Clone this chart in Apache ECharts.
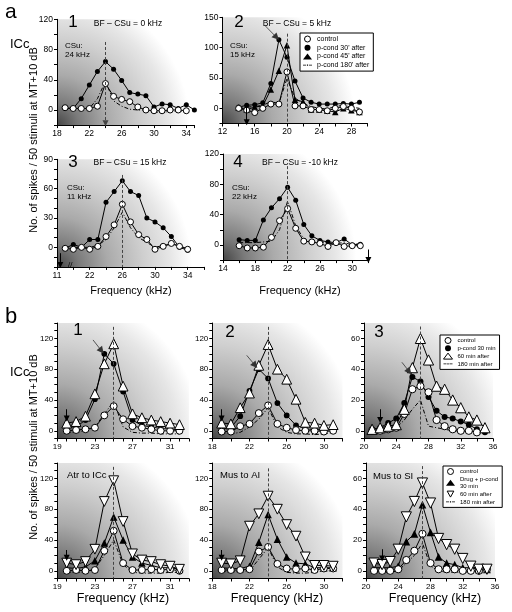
<!DOCTYPE html>
<html><head><meta charset="utf-8">
<script src="https://cdn.jsdelivr.net/npm/echarts@6/dist/echarts.min.js"></script>
<style>html,body{margin:0;padding:0;background:#fff}#c{width:512px;height:612px}</style>
</head><body><div id="c"></div>
<script>
// ================= DATA =================
// Panel a1 (CSu 24 kHz)
const a1Freq     = [19,20,21,22,23,24,25,26,27,28,29,30,31,32,33,34,35];
const a1Control  = [3,2,2,2,5,35,18,14,11,4,0,-1,-1,0,0,-1,null];
const a1Pcond30  = [2,2,15,33,51,64,54,39,23,21,19,4,8,7,2,7,0];
const a1Pcond180 = [2,2,2,2,15,38,12,5,1,0,0,-3,-3,-2,-2,-1,null];
const a1XTicks = [18,22,26,30,34];
const a1YTicks = [0,40,80,120];
// Panel a2 (CSu 15 kHz)
const a2Freq     = [14,15,16,17,18,19,20,21,22,23,24,25,26,27,28,29];
const a2Control  = [0,-3,-7,0,7,7,60,4,4,-2,-2,-4,0,3,0,-6];
const a2Pcond30  = [2,5,6,9,41,113,84,45,17,10,7,7,7,8,7,10];
const a2Pcond45  = [1,-2,2,4,31,62,104,14,11,-2,-2,-4,-6,0,-3,-6];
const a2Pcond180 = [0,2,3,5,11,8,49,17,8,3,0,-1,3,5,2,0];
const a2XTicks = [12,16,20,24,28];
const a2YTicks = [0,50,100,150];
// Panel a3 (CSu 11 kHz, broken axis)
const a3Freq     = [19,20,21,22,23,24,25,26,27,28,29,30,31,32,33,34];
const a3Control  = [-1,-2,0,-2,1,11,23,44,26,13,8,-2,1,4,1,-2];
const a3Pcond30  = [-1,3,0,8,8,46,57,68,57,53,30,26,20,11,0,-3];
const a3Pcond180 = [-1,0,0,0,2,8,20,36,20,10,5,0,2,3,2,-2];
const a3XTicks = [18,22,26,30,34];
const a3XTickText = ['11','22','26','30','34'];
const a3YTicks = [0,30,60,90];
// Panel a4 (CSu 22 kHz)
const a4Freq     = [16,17,18,19,20,21,22,23,24,25,26,27,28,29,30,31];
const a4Control  = [-1,-4,-4,-3,10,32,48,22,5,4,2,-2,3,-2,-1,-1];
const a4Pcond30  = [7,6,6,33,49,61,76,59,27,12,6,4,3,8,0,1];
const a4Pcond180 = [3,3,3,4,5,20,58,25,8,3,5,2,2,3,0,2];
const a4XTicks = [14,18,22,26,30];
const a4YTicks = [0,40,80,120];
// Panel b1
const b1Freq     = [20,21,22,23,24,25,26,27,28,29,30,31,32];
const b1Control  = [0,1,2,4,20,32,15,6,4,2,0,0,0];
const b1Pcond30  = [5,5,14,41,100,87,51,14,7,5,3,2,1];
const b1After60  = [10,12,19,48,87,113,58,22,17,14,12,10,8];
const b1After180 = [-2,-2,0,5,22,38,5,-2,-3,-3,-4,-4,-4];
// Panel b2
const b2Freq     = [19,20,21,22,23,24,25,26,27,28,29,30,31];
const b2Control  = [-1,-1,6,9,23,33,9,4,1,0,0,-1,0];
const b2Pcond30  = [3,4,19,52,80,68,36,20,7,3,1,3,1];
const b2After60  = [10,9,30,49,85,112,80,67,41,11,10,7,8];
const b2After180 = [-2,-4,-2,5,15,30,5,-2,-4,-4,-5,-4,-2];
// Panel b3
const b3Freq     = [21,22,23,24,25,26,27,28,29,30,31,32,33,34,35];
const b3Control  = [0,0,1,2,11,27,29,25,7,3,1,0,0,-1,null];
const b3Pcond30  = [1,2,5,8,18,35,32,22,13,9,8,6,4,1,-1];
const b3After60  = [1,2,3,4,14,41,60,46,29,27,20,15,9,7,2];
const b3After180 = [0,-1,0,2,7,14,20,3,2,1,0,0,-1,-1,-2];
// Panel b4 (Atr to ICc)
const b4Freq     = [20,21,22,23,24,25,26,27,28,29,30,31,32];
const b4Control  = [0,1,0,1,26,52,10,1,1,2,1,2,0];
const b4Drug     = [4,3,5,13,36,70,40,18,10,7,4,4,2];
const b4After60  = [10,8,12,28,90,117,64,22,14,12,8,6,2];
const b4After180 = [-2,-2,-2,3,20,40,8,-2,-3,-3,-3,-2,-2];
// Panel b5 (Mus to AI)
const b5Freq     = [19,20,21,22,23,24,25,26,27,28,29,30,31];
const b5Control  = [1,1,1,2,25,31,9,3,2,3,1,3,3];
const b5Drug     = [4,3,3,6,37,73,41,18,10,9,4,4,4];
const b5After60  = [10,9,13,58,74,97,80,60,45,18,7,7,6];
const b5After180 = [-1,-1,-1,0,15,30,5,-2,-3,-3,-2,0,0];
// Panel b6 (Mus to SI)
const b6Freq     = [21,22,23,24,25,26,27,28,29,30,31,32,33,34,35];
const b6Control  = [0,0,0,1,7,13,24,5,1,1,1,0,0,0,1];
const b6Drug     = [2,2,2,3,19,24,43,25,9,5,4,2,2,1,1];
const b6After60  = [5,4,6,14,35,45,57,44,21,17,14,8,3,1,1];
const b6After180 = [-1,-1,-1,0,5,10,18,3,0,-1,-1,-1,-1,-1,-1];
const bX1Ticks = [19,23,27,31];
const bX2Ticks = [18,22,26,30];
const bX3Ticks = [20,24,28,32,36];
const bYTicks  = [0,40,80,120];
const bY3Ticks = [0,20,40,60];
// Best-frequency (dashed) lines and CSu frequencies
const aBF = [24,20,26,22];
const bBF = [25,24,27,25,24,27];
const aCSu = [24,15,18.4,32];
const bCSu = [20,19,22,20,19,22];

// ================= RENDERING =================
const FONT = "'Liberation Sans', Arial, Helvetica, sans-serif";
const chart = echarts.init(document.getElementById('c'), null, {renderer:'canvas', width:512, height:612});
function bg(){
  return new echarts.graphic.RadialGradient(0,1,1.35,[
    {offset:0,color:'#454545'},{offset:0.15,color:'#7a7a7a'},{offset:0.35,color:'#aaaaaa'},
    {offset:0.6,color:'#cfcfcf'},{offset:0.78,color:'#e6e6e6'},{offset:0.93,color:'#ffffff'},{offset:1,color:'#ffffff'}]);
}
const KIND = {
  fc:(s)=>({symbol:'circle', symbolSize:5*s, itemStyle:{color:'#000'}}),
  oc:(s)=>({symbol:'circle', symbolSize:6*s, itemStyle:{color:'#fff', borderColor:'#000', borderWidth:1}}),
  ft:(s)=>({symbol:'triangle', symbolSize:6.5*s, itemStyle:{color:'#000'}}),
  ot:(s)=>({symbol:'triangle', symbolSize:8.5*s, itemStyle:{color:'#fff', borderColor:'#000', borderWidth:1}}),
  it:(s)=>({symbol:'triangle', symbolRotate:180, symbolSize:8.5*s, itemStyle:{color:'#fff', borderColor:'#000', borderWidth:1}}),
  dd:(s)=>({symbol:'none', lineStyle:{color:'#000', width:1, type:[4,2,1,2]}})
};
const N30a="p-cond 30' after", N45a="p-cond 45' after", N180a="p-cond 180' after";
const N30b='p-cond 30 min', NDrug='Drug + p-cond\n30 min', N60='60 min after', N180b='180 min after';

const P = [
 {box:[57,19.3,137.4,105.8], x:[18,35,2,a1XTicks,a1XTicks.map(String)], y:[-20,120,20,a1YTicks], fs:8.5, s:1,
  bf:[aBF[0],90,-17.5,true], csu:null, diag:null,
  ser:[[N180a,a1Freq,a1Pcond180,'dd'],[N30a,a1Freq,a1Pcond30,'fc'],['control',a1Freq,a1Control,'oc']]},
 {box:[222.5,17.3,145,106.2], x:[12,30,2,a2XTicks,a2XTicks.map(String)], y:[-25,150,25,a2YTicks], fs:8.5, s:1,
  bf:[aBF[1],123,-25,false], csu:[aCSu[1],4,-23], diag:[17.3,136,18.7,117],
  ser:[[N180a,a2Freq,a2Pcond180,'dd'],[N30a,a2Freq,a2Pcond30,'fc'],[N45a,a2Freq,a2Pcond45,'ft'],['control',a2Freq,a2Control,'oc']]},
 {box:[57,159.3,147,107.6], x:[18,36,2,a3XTicks,a3XTickText], y:[-20,90,10,a3YTicks], fs:8.5, s:1,
  bf:[aBF[2],74,-20,false], csu:[aCSu[2],-6,-18], diag:null,
  ser:[[N180a,a3Freq,a3Pcond180,'dd'],[N30a,a3Freq,a3Pcond30,'fc'],['control',a3Freq,a3Control,'oc']]},
 {box:[223,154,145.4,106.1], x:[14,32,2,a4XTicks,a4XTicks.map(String)], y:[-20,120,20,a4YTicks], fs:8.5, s:1,
  bf:[aBF[3],104,-20,false], csu:[aCSu[3],-6,-20], diag:null,
  ser:[[N180a,a4Freq,a4Pcond180,'dd'],[N30a,a4Freq,a4Pcond30,'fc'],['control',a4Freq,a4Control,'oc']]},
 {box:[57.3,323,131.6,115.5], x:[19,33,1,bX1Ticks,bX1Ticks.map(String)], y:[-10,140,10,bYTicks], fs:8, s:1.15,
  bf:[bBF[0],135,-10,false], csu:[bCSu[0],28,16], diag:[22.8,118,23.7,104],
  ser:[[N180b,b1Freq,b1After180,'dd'],[N30b,b1Freq,b1Pcond30,'fc'],['control',b1Freq,b1Control,'oc'],[N60,b1Freq,b1After60,'ot']]},
 {box:[212.3,323,130.2,115.5], x:[18,32,2,bX2Ticks,bX2Ticks.map(String)], y:[-10,140,10,bYTicks], fs:8, s:1.15,
  bf:[bBF[1],135,-10,false], csu:[bCSu[1],28,16], diag:[21.7,98,22.6,85],
  ser:[[N180b,b2Freq,b2After180,'dd'],[N30b,b2Freq,b2Pcond30,'fc'],['control',b2Freq,b2Control,'oc'],[N60,b2Freq,b2After60,'ot']]},
 {box:[364,323,129,115.5], x:[20,36,2,bX3Ticks,bX3Ticks.map(String)], y:[-5,70,5,bY3Ticks], fs:8, s:1.2,
  bf:[bBF[2],67.7,-5,false], csu:[bCSu[2],14,7], diag:[24.7,44.5,25.6,38.5],
  ser:[[N180b,b3Freq,b3After180,'dd'],[N30b,b3Freq,b3Pcond30,'fc'],['control',b3Freq,b3Control,'oc'],[N60,b3Freq,b3After60,'ot']]},
 {box:[57.3,463,131.6,115.5], x:[19,33,1,bX1Ticks,bX1Ticks.map(String)], y:[-10,140,10,bYTicks], fs:8, s:1.15,
  bf:[bBF[3],135,-10,false], csu:[bCSu[3],27,17], diag:null,
  ser:[[N180b,b4Freq,b4After180,'dd'],[NDrug,b4Freq,b4Drug,'ft'],['control',b4Freq,b4Control,'oc'],[N60,b4Freq,b4After60,'it']]},
 {box:[212.3,463,130.2,115.5], x:[18,32,2,bX2Ticks,bX2Ticks.map(String)], y:[-10,140,10,bYTicks], fs:8, s:1.15,
  bf:[bBF[4],133,-10,false], csu:[bCSu[4],27,17], diag:null,
  ser:[[N180b,b5Freq,b5After180,'dd'],[NDrug,b5Freq,b5Drug,'ft'],['control',b5Freq,b5Control,'oc'],[N60,b5Freq,b5After60,'it']]},
 {box:[366,463,129,115.5], x:[20,36,2,bX3Ticks,bX3Ticks.map(String)], y:[-5,70,5,bY3Ticks], fs:8, s:1.2,
  bf:[bBF[5],68,-5,false], csu:[bCSu[5],14,8], diag:null,
  ser:[[N180b,b6Freq,b6After180,'dd'],[NDrug,b6Freq,b6Drug,'ft'],['control',b6Freq,b6Control,'oc'],[N60,b6Freq,b6After60,'it']]}
];

const grids=[], xAxes=[], yAxes=[], series=[];
const axisCommon = (fs)=>({
  axisLine:{onZero:false, lineStyle:{color:'#000', width:1}},
  axisTick:{length:3, lineStyle:{color:'#000', width:1}},
  splitLine:{show:false}
});
P.forEach((p,gi)=>{
  grids.push({left:p.box[0], top:p.box[1], width:p.box[2], height:p.box[3], show:true, borderWidth:0,
    backgroundColor:bg(), containLabel:false, outerBoundsMode:'none'});
  const xv=p.x[3], xt=p.x[4];
  xAxes.push(Object.assign({type:'value', gridIndex:gi, min:p.x[0], max:p.x[1], interval:p.x[2],
    axisLabel:{fontSize:p.fs, fontFamily:FONT, color:'#000', margin:4, showMinLabel:true, showMaxLabel:true,
      formatter:(v)=>{const k=xv.indexOf(Math.round(v*100)/100); return k>=0?xt[k]:'';}}}, axisCommon(p.fs)));
  const yv=p.y[3];
  yAxes.push(Object.assign({type:'value', gridIndex:gi, min:p.y[0], max:p.y[1], interval:p.y[2],
    axisLabel:{fontSize:p.fs, fontFamily:FONT, color:'#000', margin:4, showMinLabel:true, showMaxLabel:true,
      formatter:(v)=>{return yv.indexOf(Math.round(v*100)/100)>=0?String(v):'';}}}, axisCommon(p.fs)));
  // annotations
  const ml=[];
  const dashed={type:[3,2], color:'#444', width:1};
  const solid={type:'solid', color:'#000', width:1};
  ml.push([{coord:[p.bf[0],p.bf[1]], symbol:'none', lineStyle:dashed},
           {coord:[p.bf[0],p.bf[2]], symbol:p.bf[3]?'triangle':'none', symbolSize:6, lineStyle:dashed}]);
  if(p.csu) ml.push([{coord:[p.csu[0],p.csu[1]], symbol:'none', lineStyle:solid},
                     {coord:[p.csu[0],p.csu[2]], symbol:'triangle', symbolSize:6, lineStyle:solid}]);
  if(p.diag) ml.push([{coord:[p.diag[0],p.diag[1]], symbol:'none', lineStyle:{type:'solid',color:'#333',width:0.8}},
                      {coord:[p.diag[2],p.diag[3]], symbol:'triangle', symbolSize:7, lineStyle:{type:'solid',color:'#333',width:0.8}}]);
  p.ser.forEach((sd,si)=>{
    const [name,freq,vals,kind]=sd;
    const s=Object.assign({type:'line', name, xAxisIndex:gi, yAxisIndex:gi, animation:false, silent:true,
      showAllSymbol:true, lineStyle:{color:'#000', width:1},
      data:freq.map((f,i)=>[f,vals[i]]).filter(d=>d[1]!==null)}, KIND[kind](p.s));
    if(si===0){
      s.markLine={silent:true, animation:false, symbol:['none','none'], label:{show:false}, data:ml};
    }
    series.push(s);
  });
});

const DD_ICON='path://M0,1h5v1h-5z M6.5,0.5h2v2h-2z M10,1h5v1h-5z';
const openC={color:'#fff', borderColor:'#000', borderWidth:1};
function legendBox(left, top, fs, data, gap){
  return {orient:'vertical', left, top, padding:[2,4,2,3], itemGap:gap, itemWidth:9, itemHeight:6,
    borderColor:'#000', borderWidth:1, backgroundColor:'#fff', selectedMode:false, symbolKeepAspect:true,
    textStyle:{fontSize:fs, fontFamily:FONT, color:'#000', lineHeight:fs+1}, data};
}
const legends=[
  legendBox(300,33,7,[
    {name:'control', icon:'circle', itemStyle:openC},
    {name:N30a, icon:'circle', itemStyle:{color:'#000'}},
    {name:N45a, icon:'triangle', itemStyle:{color:'#000'}},
    {name:N180a, icon:DD_ICON, itemStyle:{color:'#000'}}],0.7),
  legendBox(440,335,6,[
    {name:'control', icon:'circle', itemStyle:openC},
    {name:N30b, icon:'circle', itemStyle:{color:'#000'}},
    {name:N60, icon:'triangle', itemStyle:openC},
    {name:N180b, icon:DD_ICON, itemStyle:{color:'#000'}}],0.8),
  legendBox(443,466,6,[
    {name:'control', icon:'circle', itemStyle:openC},
    {name:NDrug, icon:'triangle', itemStyle:{color:'#000'}},
    {name:N60, icon:'path://M0,0L10,0L5,9Z', itemStyle:openC},
    {name:N180b, icon:DD_ICON, itemStyle:{color:'#000'}}],0.8)
];

function txt(text,x,y,fs,align,extra){
  return Object.assign({type:'text', x, y, silent:true,
    style:{text, fontSize:fs, fontFamily:FONT, fill:'#000', align:align||'left', verticalAlign:'middle'}}, extra||{});
}
const YT='No. of spikes / 50 stimuli at MT+10 dB';
const graphics=[
  txt('a',5,12,21), txt('ICc',10,44,13),
  txt('1',73,22,17,'center'), txt('BF – CSu = 0 kHz',128,24,8.5,'center'),
  txt('CSu:',65,46,8), txt('24 kHz',65,55,8),
  txt('2',239,22,17,'center'), txt('BF – CSu = 5 kHz',297,24,8.5,'center'),
  txt('CSu:',230,46,8), txt('15 kHz',230,55,8),
  txt('3',73,162,17,'center'), txt('BF – CSu = 15 kHz',130,163,8.5,'center'),
  txt('CSu:',67,188,8), txt('11 kHz',67,197,8),
  txt('4',238,162,17,'center'), txt('BF – CSu = -10 kHz',300,163,8.5,'center'),
  txt('CSu:',232,188,8), txt('22 kHz',232,197,8),
  txt('//',68,265,8,'left'),
  txt(YT,34,140,11,'center',{rotation:Math.PI/2}),
  txt('Frequency (kHz)',131,291,11,'center'), txt('Frequency (kHz)',300,291,11,'center'),
  txt('b',5,317,22), txt('ICc',10,372,13),
  txt('1',78,330,17,'center'), txt('2',230,332,17,'center'), txt('3',379,332,17,'center'),
  txt('Atr to ICc',67,475,9.5), txt('Mus to AI',220,475,9.5), txt('Mus to SI',373,476,9.5),
  txt(YT,34,447,11,'center',{rotation:Math.PI/2}),
  txt('Frequency (kHz)',123,599,12.5,'center'), txt('Frequency (kHz)',277,599,12.5,'center'),
  txt('Frequency (kHz)',435,599,12.5,'center')
];

chart.setOption({
  animation:false, backgroundColor:'#fff',
  grid:grids, xAxis:xAxes, yAxis:yAxes, series, legend:legends,
  graphic:{elements:graphics}
});
</script></body></html>
